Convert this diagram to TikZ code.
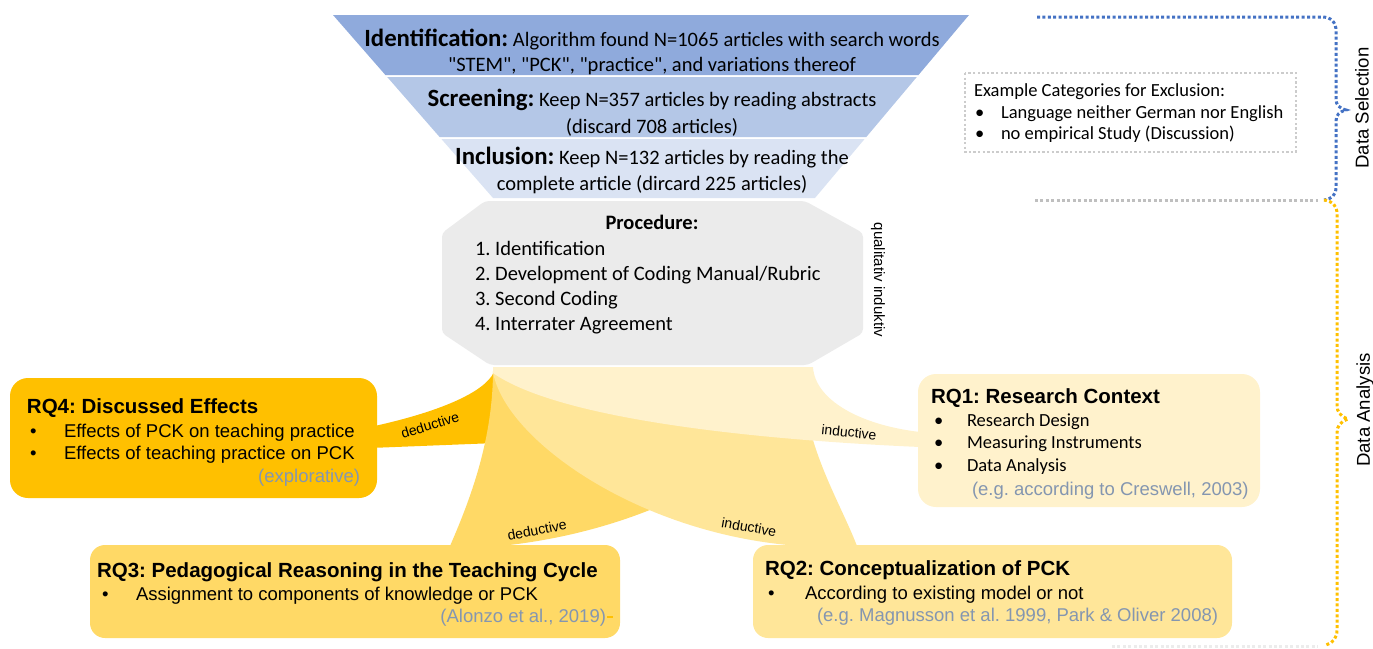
\documentclass[tikz,border=0pt]{standalone}
\usepackage{fontspec}
\setmainfont{Carlito}
\newfontfamily\calnq{Carlito}[Ligatures=TeXOff]
\newfontfamily\arial{Liberation Sans}
\frenchspacing
\definecolor{blueA}{HTML}{8FAADC}
\definecolor{blueB}{HTML}{B4C7E7}
\definecolor{blueC}{HTML}{DAE3F3}
\definecolor{procgray}{HTML}{EBEBEB}
\definecolor{yA}{HTML}{FFC000}
\definecolor{yB}{HTML}{FFD966}
\definecolor{yC}{HTML}{FFE699}
\definecolor{yD}{HTML}{FFF2CC}
\definecolor{citegray}{HTML}{8496B0}
\definecolor{dotblue}{HTML}{4472C4}
\definecolor{dotgray}{HTML}{BFBFBF}
\tikzset{
  txt/.style={inner sep=0pt, outer sep=0pt},
  cal/.style={txt, font=\fontsize{20.5}{25}\selectfont},
  calsm/.style={txt, font=\fontsize{18.5}{22}\selectfont},
  rqtitle/.style={txt, font=\arial\fontsize{20.5}{24}\selectfont\bfseries},
  rqbody/.style={txt, font=\arial\fontsize{18.5}{22}\selectfont},
  cite/.style={rqbody, text=citegray},
  flowlbl/.style={txt, font=\arial\fontsize{14}{16}\selectfont},
  sidelbl/.style={txt, font=\arial\fontsize{18.6}{22}\selectfont, rotate=90},
  rqbox/.style={rounded corners=18pt, inner sep=0pt, outer sep=0pt},
  dotline/.style={line width=3pt, dash pattern=on 3pt off 2.4pt},
}
\newcommand{\hd}[1]{{\fontsize{24.8}{28}\selectfont\bfseries #1}}
\begin{document}
\begin{tikzpicture}[x=1pt,y=-1pt]
\useasboundingbox (0,0) rectangle (1373,648);

% funnel
\fill[blueA] (333,15) -- (969,15) -- (918.5,75) -- (385.4,75) -- cycle;
\fill[blueB] (387.2,77) -- (916.8,77) -- (866.3,137) -- (439.6,137) -- cycle;
\fill[blueC] (441.4,139) -- (864.6,139) -- (815,198) -- (493,198) -- cycle;
\node[cal, anchor=base] (id1) at (652,46) {\hd{Identification:} Algorithm found N=1065 articles with search words};
\node[cal, anchor=base] (id2) at (652,71) {\calnq "STEM", "PCK", "practice", and variations thereof};
\node[cal, anchor=base] (sc1) at (652,106) {\hd{Screening:} Keep N=357 articles by reading abstracts};
\node[cal, anchor=base] (sc2) at (652,133) {(discard 708 articles)};
\node[cal, anchor=base] (in1) at (652,164) {\hd{Inclusion:} Keep N=132 articles by reading the};
\node[cal, anchor=base] (in2) at (652,190) {complete article (dircard 225 articles)};

% procedure octagon
\fill[procgray, rounded corners=4pt] (485,201) -- (805,201) -- (863,233) -- (863,333) -- (808,365) -- (490,365) -- (442,333) -- (442,233) -- cycle;
\node[cal, anchor=base, font=\fontsize{20.5}{25}\selectfont\bfseries] (proc) at (652,229) {Procedure:};
\node[cal, anchor=base west] (p1) at (475,255) {1. Identification};
\node[cal, anchor=base west] (p2) at (475,280) {2. Development of Coding Manual/Rubric};
\node[cal, anchor=base west] (p3) at (475,305) {3. Second Coding};
\node[cal, anchor=base west] (p4) at (475,330) {4. Interrater Agreement};
\node[txt, font=\arial\fontsize{15}{18}\selectfont, rotate=-90] (qual) at (878,280) {qualitativ induktiv};

% exclusion box
\draw[dotline, draw=dotgray!80, line width=2.4pt, dash pattern=on 2.4pt off 2.2pt] (965,73) rectangle (1296,152);
\node[calsm, anchor=base west] (ex0) at (974,96) {Example Categories for Exclusion:};
\node[calsm, anchor=base west] (exb1) at (975,118) {•};
\node[calsm, anchor=base west] (ex1) at (1001,118) {Language neither German nor English};
\node[calsm, anchor=base west] (exb2) at (975,139) {•};
\node[calsm, anchor=base west] (ex2) at (1001,139) {no empirical Study (Discussion)};

% brackets
\draw[dotline, draw=dotgray] (1035,200) -- (1318,200);
\draw[dotline, draw=dotgray!30] (1112,646) -- (1318,646);
\draw[dotline, draw=dotblue] (1037,17) -- (1322,17) .. controls (1331,17) and (1336,22) .. (1336,31) -- (1336,99) .. controls (1336,105) and (1339,108) .. (1346,110) .. controls (1339,112) and (1336,115) .. (1336,121) -- (1336,187) .. controls (1336,195) and (1332,199) .. (1324,200);
\draw[dotline, draw=yA] (1324,200) .. controls (1332,201) and (1337,205) .. (1337,214) -- (1337,405) .. controls (1337,412) and (1340,416) .. (1348,419) .. controls (1340,422) and (1337,426) .. (1337,433) -- (1337,630) .. controls (1337,638) and (1333,643) .. (1326,645);
\node[sidelbl] (dsel) at (1362,108) {Data Selection};
\node[sidelbl] (dana) at (1365,410) {Data Analysis};

% fans
\fill[yA] (494,372) .. controls (485,392) and (440,412) .. (370,427) -- (370,448) -- (496,443) -- cycle;
\fill[yB] (493,370) .. controls (493,440) and (470,500) .. (450,546) -- (500,546) .. controls (560,540) and (615,525) .. (662,505) -- (705,440) -- (493,372) -- cycle;
\fill[yC] (493,372) .. controls (505,440) and (640,535) .. (800,546) -- (857,546) .. controls (845,515) and (825,480) .. (813,440) -- (813,372) -- cycle;
\fill[yD] (493,367) -- (813,367) .. controls (815,400) and (860,425) .. (920,432) -- (920,447) .. controls (760,440) and (560,420) .. (493,373) -- cycle;
\node[flowlbl, rotate=17] (l4) at (430,425) {deductive};
\node[flowlbl, rotate=-6] (l1) at (849,432) {inductive};
\node[flowlbl, rotate=11] (l3) at (537,530) {deductive};
\node[flowlbl, rotate=-10] (l2) at (749,527) {inductive};

% RQ4
\node[rqbox, fill=yA, minimum width=367, minimum height=120] (rq4) at (193.5,438) {};
\node[rqtitle, anchor=base west] (rq4t) at (27,413) {RQ4: Discussed Effects};
\node[rqbody, anchor=base west] (rq4b1) at (30,437) {•};
\node[rqbody, anchor=base west] (rq4i1) at (64,437) {Effects of PCK on teaching practice};
\node[rqbody, anchor=base west] (rq4b2) at (30,459) {•};
\node[rqbody, anchor=base west] (rq4i2) at (64,459) {Effects of teaching practice on PCK};
\node[cite, anchor=base east] (rq4c) at (360,482) {(explorative)};

% RQ1
\node[rqbox, fill=yD, minimum width=342, minimum height=133] (rq1) at (1089,440.5) {};
\node[rqtitle, anchor=base west] (rq1t) at (931,403) {RQ1: Research Context};
\node[calsm, anchor=base west] (rq1b1) at (934,426) {•};
\node[calsm, anchor=base west] (rq1i1) at (967,426) {Research Design};
\node[calsm, anchor=base west] (rq1b2) at (934,448) {•};
\node[calsm, anchor=base west] (rq1i2) at (967,448) {Measuring Instruments};
\node[calsm, anchor=base west] (rq1b3) at (934,471) {•};
\node[calsm, anchor=base west] (rq1i3) at (967,471) {Data Analysis};
\node[cite, anchor=base west] (rq1c) at (972,495) {(e.g. according to Creswell, 2003)};

% RQ3
\node[rqbox, rounded corners=15pt, fill=yB, minimum width=530, minimum height=93] (rq3) at (355,591.5) {};
\node[rqtitle, anchor=base west] (rq3t) at (97,577) {RQ3: Pedagogical Reasoning in the Teaching Cycle};
\node[rqbody, anchor=base west] (rq3b1) at (102,600) {•};
\node[rqbody, anchor=base west] (rq3i1) at (136,600) {Assignment to components of knowledge or PCK};
\node[cite, anchor=base east] (rq3c) at (606,622) {(Alonzo et al., 2019)};
\draw[yA, line width=1.2pt] (rq3c.base east) ++(1,-5) -- ++(6,0);

% RQ2
\node[rqbox, rounded corners=15pt, fill=yC, minimum width=479, minimum height=93] (rq2) at (992.5,591.5) {};
\node[rqtitle, anchor=base west] (rq2t) at (765,575) {RQ2: Conceptualization of PCK};
\node[rqbody, anchor=base west] (rq2b1) at (768,599) {•};
\node[rqbody, anchor=base west] (rq2i1) at (805,599) {According to existing model or not};
\node[cite, anchor=base west] (rq2c) at (817,621) {(e.g. Magnusson et al. 1999, Park \& Oliver 2008)};
\end{tikzpicture}
\end{document}
